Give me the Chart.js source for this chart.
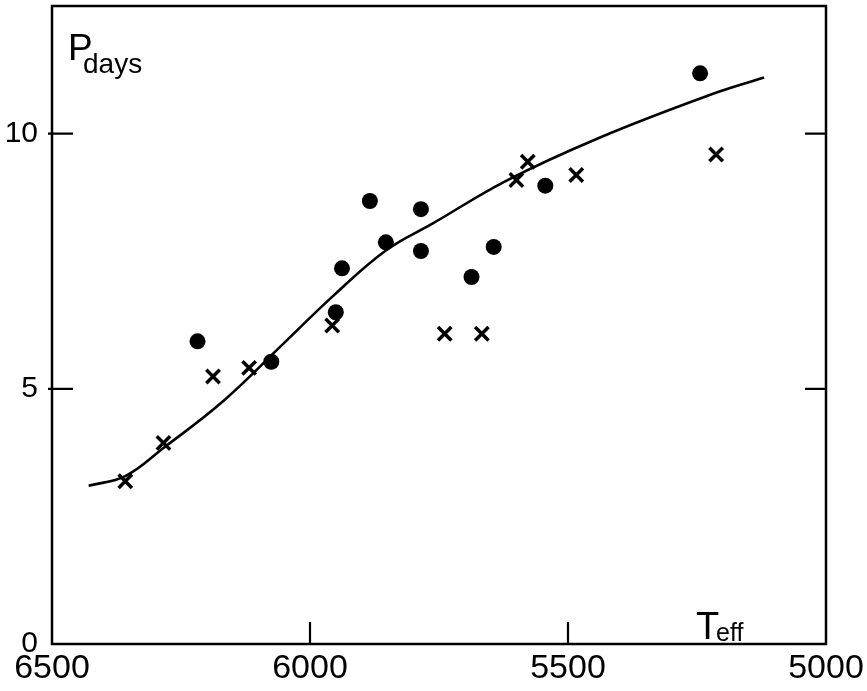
<!DOCTYPE html>
<html>
<head>
<meta charset="utf-8">
<script src="https://cdn.jsdelivr.net/npm/chart.js@4/dist/chart.umd.min.js"></script>
<style>
  html, body { margin: 0; padding: 0; background: #fff; }
  #wrap { width: 867px; height: 691px; }
</style>
</head>
<body>
<div id="wrap"><canvas id="c" width="867" height="691"></canvas></div>
<script>
// Rotation period against effective temperature
const dotTeff   = [6218, 6075, 5950, 5938, 5884, 5853, 5785, 5785, 5687, 5644, 5544, 5244];
const dotPeriod = [5.93, 5.53, 6.50, 7.36, 8.68, 7.87, 8.52, 7.70, 7.19, 7.78, 8.98, 11.18];

const crossTeff   = [6358, 6284, 6188, 6118, 5957, 5739, 5667, 5600, 5578, 5484, 5213];
const crossPeriod = [3.19, 3.94, 5.24, 5.41, 6.24, 6.08, 6.08, 9.09, 9.45, 9.19, 9.59];

// Mean relation
const curveTeff   = [6429, 6358, 6284, 6168, 6052, 5955, 5853, 5762, 5619, 5439, 5227, 5120];
const curvePeriod = [3.10, 3.29, 3.84, 4.76, 5.88, 6.82, 7.71, 8.24, 9.08, 9.92, 10.75, 11.10];

const xTickValues = [6500, 6000, 5500, 5000];
const yTickValues = [0, 5, 10];

const pts = (xs, ys) => xs.map((x, i) => ({ x: x, y: ys[i] }));
const FONT = "'Liberation Sans', Arial, sans-serif";

// Frame, inward tick marks and axis names
const framePlugin = {
  id: 'frame',
  afterDraw(chart) {
    const { ctx, chartArea: a, scales } = chart;
    ctx.save();
    ctx.strokeStyle = '#000';
    ctx.lineWidth = 2.5;
    ctx.strokeRect(a.left, a.top, a.right - a.left, a.bottom - a.top);
    ctx.lineWidth = 2.2;
    ctx.beginPath();
    yTickValues.forEach(v => {
      if (v === 0) return;
      const y = scales.y.getPixelForValue(v);
      ctx.moveTo(a.left - 4, y); ctx.lineTo(a.left + 21, y);
      ctx.moveTo(a.right - 21, y); ctx.lineTo(a.right, y);
    });
    xTickValues.forEach(v => {
      if (v === 6500 || v === 5000) return;
      const x = scales.x.getPixelForValue(v);
      ctx.moveTo(x, a.bottom); ctx.lineTo(x, a.bottom - 22);
    });
    ctx.stroke();

    ctx.fillStyle = '#000';
    ctx.textBaseline = 'alphabetic';
    ctx.textAlign = 'left';
    ctx.font = '37px ' + FONT;
    ctx.fillText('P', a.left + 16, a.top + 54);
    ctx.font = '28px ' + FONT;
    ctx.fillText('days', a.left + 31, a.top + 67);
    ctx.font = '38px ' + FONT;
    ctx.fillText('T', a.left + 644, a.bottom - 5);
    ctx.font = '25px ' + FONT;
    ctx.fillText('eff', a.left + 664, a.bottom - 3);
    ctx.restore();
  }
};

new Chart(document.getElementById('c'), {
  type: 'scatter',
  data: {
    datasets: [
      {
        type: 'line',
        data: pts(curveTeff, curvePeriod),
        borderColor: '#000',
        borderWidth: 2.6,
        pointRadius: 0,
        fill: false,
        tension: 0.4,
        clip: false
      },
      {
        data: pts(dotTeff, dotPeriod),
        pointStyle: 'circle',
        pointRadius: 8,
        backgroundColor: '#000',
        borderColor: '#000',
        borderWidth: 0,
        clip: false
      },
      {
        data: pts(crossTeff, crossPeriod),
        pointStyle: 'crossRot',
        pointRadius: 9.5,
        borderColor: '#000',
        borderWidth: 3.5,
        clip: false
      }
    ]
  },
  options: {
    responsive: false,
    animation: false,
    layout: { autoPadding: false, padding: { top: 6, right: 41, left: 0, bottom: 0 } },
    plugins: { legend: { display: false }, tooltip: { enabled: false } },
    scales: {
      x: {
        type: 'linear',
        reverse: true,
        min: 5000,
        max: 6500,
        afterBuildTicks: s => { s.ticks = xTickValues.map(v => ({ value: v })); },
        afterFit: s => { s.height = 47; s.paddingLeft = 0; s.paddingRight = 0; },
        grid: { display: false, drawTicks: false },
        border: { display: false },
        ticks: {
          color: '#000', font: { family: FONT, size: 34 }, padding: 4,
          maxRotation: 0, autoSkip: false, callback: v => String(v)
        }
      },
      y: {
        type: 'linear',
        min: 0,
        max: 12.5,
        afterBuildTicks: s => { s.ticks = yTickValues.map(v => ({ value: v })); },
        afterFit: s => { s.width = 52; s.paddingTop = 0; s.paddingBottom = 0; },
        grid: { display: false, drawTicks: false },
        border: { display: false },
        ticks: { color: '#000', font: { family: FONT, size: 30 }, padding: 14, callback: v => String(v) }
      }
    }
  },
  plugins: [framePlugin]
});
</script>
</body>
</html>
